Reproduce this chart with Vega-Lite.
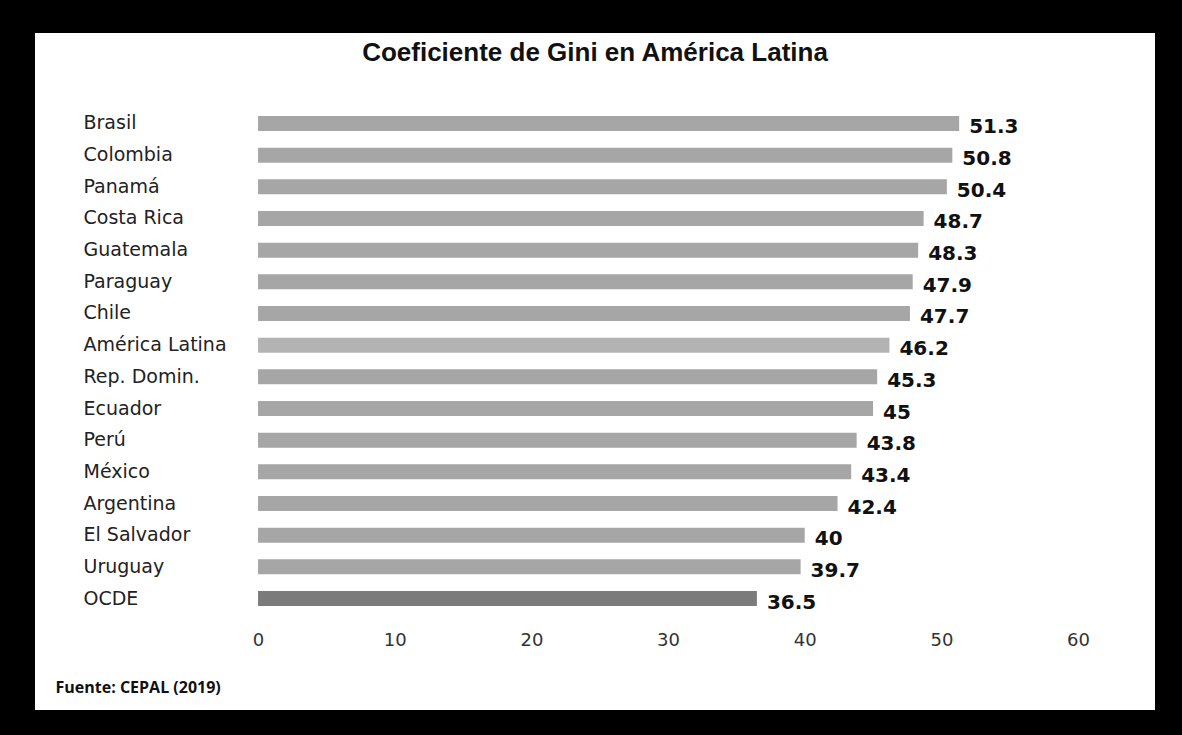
{
  "$schema": "https://vega.github.io/schema/vega-lite/v6.json",
  "width": 1120,
  "height": 677,
  "autosize": "none",
  "padding": {"left": 35, "top": 33, "right": 27, "bottom": 25},
  "background": "#000000",
  "view": {"fill": "#ffffff", "stroke": null},
  "title": {
    "text": "Coeficiente de Gini en América Latina",
    "font": "Liberation Sans",
    "fontSize": 26,
    "fontWeight": "bold",
    "color": "#111111",
    "offset": -33,
    "anchor": "middle"
  },
  "data": {
    "values": [
      {"pais": "Brasil", "gini": 51.3},
      {"pais": "Colombia", "gini": 50.8},
      {"pais": "Panamá", "gini": 50.4},
      {"pais": "Costa Rica", "gini": 48.7},
      {"pais": "Guatemala", "gini": 48.3},
      {"pais": "Paraguay", "gini": 47.9},
      {"pais": "Chile", "gini": 47.7},
      {"pais": "América Latina", "gini": 46.2},
      {"pais": "Rep. Domin.", "gini": 45.3},
      {"pais": "Ecuador", "gini": 45},
      {"pais": "Perú", "gini": 43.8},
      {"pais": "México", "gini": 43.4},
      {"pais": "Argentina", "gini": 42.4},
      {"pais": "El Salvador", "gini": 40},
      {"pais": "Uruguay", "gini": 39.7},
      {"pais": "OCDE", "gini": 36.5}
    ]
  },
  "encoding": {
    "y": {
      "field": "pais",
      "type": "nominal",
      "sort": null,
      "scale": {"range": [83, 573], "paddingInner": 0.527, "paddingOuter": 0},
      "axis": {
        "title": null,
        "domain": false,
        "ticks": false,
        "tickSize": 0,
        "offset": -48,
        "labelPadding": 0,
        "labelAlign": "left",
        "labelFont": "DejaVu Sans",
        "labelFontSize": 19,
        "labelColor": "#222222"
      }
    },
    "x": {
      "field": "gini",
      "type": "quantitative",
      "scale": {"domain": [-16.32, 65.63], "nice": false, "zero": false},
      "axis": {
        "values": [0, 10, 20, 30, 40, 50, 60],
        "domain": false,
        "ticks": false,
        "tickSize": 0,
        "grid": false,
        "offset": -79,
        "labelPadding": 0,
        "labelFont": "DejaVu Sans",
        "labelFontSize": 18,
        "labelColor": "#333333",
        "title": "Fuente: CEPAL (2019)",
        "titleFont": "Open Sans",
        "titleFontSize": 16,
        "titleFontWeight": "bold",
        "titleColor": "#111111",
        "titleAnchor": "start",
        "titleAlign": "left",
        "titleBaseline": "top",
        "titleX": 20,
        "titleY": 48
      }
    }
  },
  "layer": [
    {
      "mark": {"type": "bar"},
      "encoding": {
        "x2": {"datum": 0},
        "color": {
          "condition": [
            {"test": "datum.pais === 'OCDE'", "value": "#7b7b7b"},
            {"test": "datum.pais === 'América Latina'", "value": "#b3b3b3"}
          ],
          "value": "#a6a6a6"
        }
      }
    },
    {
      "mark": {
        "type": "text",
        "align": "left",
        "baseline": "middle",
        "dx": 10,
        "dy": 4,
        "font": "DejaVu Sans",
        "fontSize": 20,
        "fontWeight": "bold",
        "color": "#111111"
      },
      "encoding": {
        "text": {"field": "gini", "type": "nominal"}
      }
    }
  ]
}
